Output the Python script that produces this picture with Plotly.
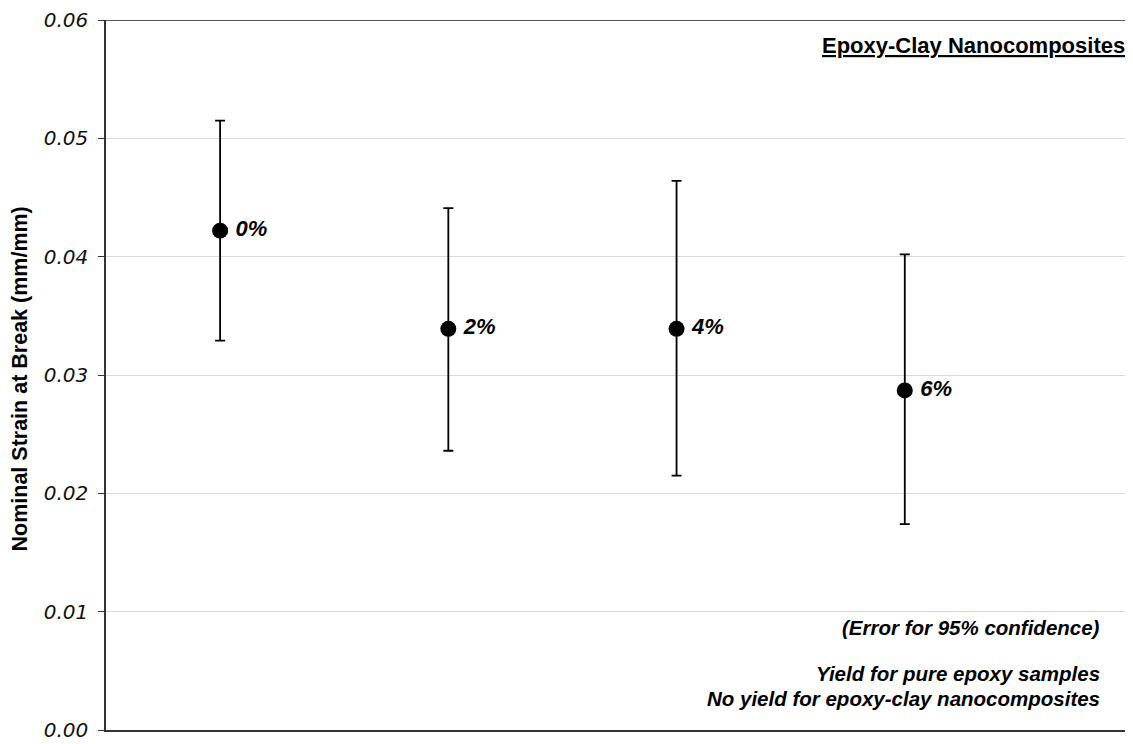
import plotly.graph_objects as go

categories = ["0%", "2%", "4%", "6%"]
x_pos = [1, 2, 3, 4]
means = [0.0422, 0.0339, 0.0339, 0.0287]
upper = [0.0515, 0.0441, 0.0464, 0.0402]
lower = [0.0329, 0.0236, 0.0215, 0.0174]

err_plus = [u - m for u, m in zip(upper, means)]
err_minus = [m - l for m, l in zip(means, lower)]

# page has an 8px body margin; compensate so plot area lands at 106..1133 x 20..730
OFF = 8
W, H = 1133 - OFF, 744 - OFF
ML, MR, MT, MB = 106 - OFF, 0, 20 - OFF, 14
PW, PH = W - ML - MR, H - MT - MB


def px_x(px):
    return (px - OFF - ML) / PW


def px_y(py):
    return (H - MB - (py - OFF)) / PH


fig = go.Figure()
fig.add_trace(go.Scatter(
    x=x_pos, y=means, mode="markers+text",
    text=["<b><i>\u2009" + c + "</i></b>" for c in categories],
    textposition="middle right",
    textfont=dict(family="Liberation Sans, Arial, sans-serif", size=22, color="black"),
    marker=dict(size=16, color="black"),
    error_y=dict(type="data", symmetric=False, array=err_plus, arrayminus=err_minus,
                 color="black", thickness=1.8, width=5),
    showlegend=False, cliponaxis=False,
))

fig.update_layout(
    width=W, height=H,
    margin=dict(l=ML, r=MR, t=MT, b=MB),
    plot_bgcolor="white", paper_bgcolor="white",
    xaxis=dict(range=[0.5, 5.0], showgrid=False, zeroline=False, showticklabels=False,
               ticks="", showline=True, linecolor="#333333", linewidth=1.5),
    yaxis=dict(range=[0, 0.06], dtick=0.01, tickformat=".2f", showgrid=True,
               gridcolor="#d9d9d9", gridwidth=1, zeroline=False,
               showline=True, linecolor="#333333", linewidth=1.5,
               ticks="outside", ticklen=6, tickcolor="#333333", tickwidth=1,
               tickfont=dict(family="DejaVu Sans, sans-serif", size=20, color="#111111",
                             style="italic"),
               ticklabelstandoff=6),
    font=dict(family="Liberation Sans, Arial, sans-serif", color="black"),
)

# top border line at 0.06
fig.add_shape(type="line", xref="paper", yref="y", x0=0, x1=1, y0=0.06, y1=0.06,
              line=dict(color="#222222", width=1.5))

annotations = [
    dict(text="<b>Nominal Strain at Break (mm/mm)</b>", x=px_x(19.5), y=px_y(379),
         textangle=-90, xanchor="center", yanchor="middle", font=dict(size=21.5)),
    dict(text="<b><u>Epoxy-Clay Nanocomposites</u></b>", x=px_x(1127), y=px_y(46),
         xanchor="right", yanchor="middle", font=dict(size=22)),
    dict(text="<b><i>(Error for 95% confidence)</i></b>", x=px_x(1102), y=px_y(627),
         xanchor="right", yanchor="middle", font=dict(size=20.5)),
    dict(text="<b><i>Yield for pure epoxy samples</i></b>", x=px_x(1102), y=px_y(673),
         xanchor="right", yanchor="middle", font=dict(size=20.5)),
    dict(text="<b><i>No yield for epoxy-clay nanocomposites</i></b>", x=px_x(1102), y=px_y(698),
         xanchor="right", yanchor="middle", font=dict(size=20.5)),
]
for a in annotations:
    fig.add_annotation(xref="paper", yref="paper", showarrow=False, **a)

fig.write_html("out.html")
